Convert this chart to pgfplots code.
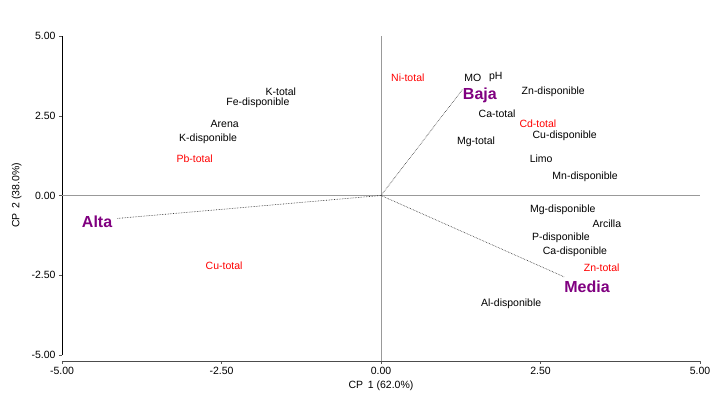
\documentclass[border=0pt]{standalone}
\usepackage{pgfplots}
\usepackage{pgfplotstable}
\pgfplotsset{compat=1.18}
\usepackage{fontspec}
\setmainfont{Liberation Sans}
\definecolor{lblpurple}{HTML}{800080}
\definecolor{lblred}{HTML}{FF0000}

\pgfplotstableread{
x y label
-1.57 3.29 K-total
-1.93 2.95 Fe-disponible
-2.45 2.26 Arena
-2.71 1.82 K-disponible
1.44 3.73 MO
1.80 3.76 pH
2.70 3.29 Zn-disponible
1.82 2.60 Ca-total
2.88 1.91 Cu-disponible
1.49 1.72 Mg-total
2.51 1.19 Limo
3.20 0.63 Mn-disponible
2.85 -0.41 Mg-disponible
3.54 -0.85 Arcilla
2.82 -1.29 P-disponible
3.04 -1.72 Ca-disponible
2.04 -3.35 Al-disponible
}\blacklabels

\pgfplotstableread{
x y label
-2.92 1.19 Pb-total
0.42 3.73 Ni-total
2.46 2.29 Cd-total
3.46 -2.23 Zn-total
-2.46 -2.16 Cu-total
}\redlabels

\pgfplotstableread{
x y label
1.55 3.17 Baja
3.23 -2.82 Media
-4.45 -0.78 Alta
}\purplelabels

\begin{document}
\begin{tikzpicture}
\begin{axis}[
  scale only axis,
  width=638pt, height=319pt,
  xmin=-5, xmax=5, ymin=-5, ymax=5,
  clip=false,
  axis lines*=left,
  axis x line shift=6pt,
  xtick={-5,-2.5,0,2.5,5},
  ytick={-5,-2.5,0,2.5,5},
  /pgf/number format/.cd, fixed, fixed zerofill, precision=2, assume math mode=true,
  /pgfplots/.cd,
  tick label style={font=\fontsize{10.5}{12}\selectfont},
  tick style={gray!70!black, thin},
  major tick length=3pt,
  tick align=outside,
  x axis line style={gray!60!black, -},
  y axis line style={black, -},
  xlabel={CP\,\ 1 (62.0\%)},
  ylabel={CP\,\ 2 (38.0\%)},
  label style={font=\fontsize{10.5}{12}\selectfont},
  xlabel style={yshift=1pt},
  ylabel style={yshift=3pt},
  every node near coord/.style={anchor=center, yshift=-1pt},
]
% reference lines
\addplot[gray!80, thin] coordinates {(0,-5.19) (0,5)};
\addplot[gray!80, thin] coordinates {(-5,0) (5,0)};
% dotted vectors
\addplot[densely dotted, black!85, semithick] coordinates {(0,0) (1.28,3.33)};
\addplot[densely dotted, black!85, semithick] coordinates {(0,0) (2.87,-2.55)};
\addplot[densely dotted, black!85, semithick] coordinates {(0,0) (-4.14,-0.72)};
% labels
\addplot[draw=none, mark=none, nodes near coords, point meta=explicit symbolic,
  every node near coord/.append style={font=\fontsize{10.5}{12}\selectfont, text=black}]
  table[meta=label] {\blacklabels};
\addplot[draw=none, mark=none, nodes near coords, point meta=explicit symbolic,
  every node near coord/.append style={font=\fontsize{10.5}{12}\selectfont, text=lblred}]
  table[meta=label] {\redlabels};
\addplot[draw=none, mark=none, nodes near coords, point meta=explicit symbolic,
  every node near coord/.append style={font=\fontsize{16}{18}\selectfont\bfseries, text=lblpurple}]
  table[meta=label] {\purplelabels};
\end{axis}
\path (current axis.south west) ++(-62pt,-43pt) rectangle ++(728pt,398pt);
\end{tikzpicture}
\end{document}
